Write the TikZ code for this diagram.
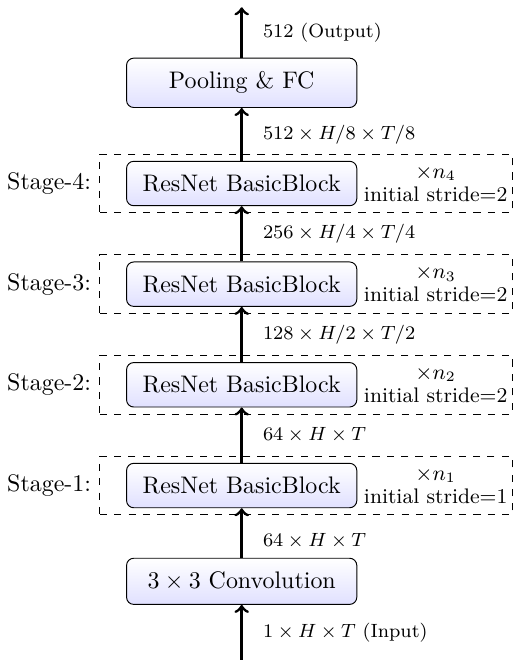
\documentclass[tikz,border=0pt]{standalone}
\usepackage{amsmath}
\usetikzlibrary{positioning}
\begin{document}
\begin{tikzpicture}
\tikzstyle{block} = [draw,rounded corners=3pt,top color=white,bottom color=blue!12,minimum width=3.38cm,inner ysep=5.7pt];
\tikzstyle{stagebox} = [draw,dashed,minimum width=6.05cm,minimum height=0.862cm];
\tikzstyle{stride} = [font=\fontsize{8.8pt}{10pt}\selectfont,align=center,inner sep=2.6pt];
\tikzstyle{dim} = [font=\footnotesize,right,xshift=5pt];
\tikzstyle{flow} = [->,very thick];
\useasboundingbox (-3.548,-1.155) rectangle (4.012,8.534);

% stage frames
\node (st1) [stagebox] at (0.944,1.406) {};
\node (st2) [stagebox] at (0.944,2.885) {};
\node (st3) [stagebox] at (0.944,4.362) {};
\node (st4) [stagebox] at (0.944,5.840) {};
\node [left=0pt of st1] {Stage-1:};
\node [left=0pt of st2] {Stage-2:};
\node [left=0pt of st3] {Stage-3:};
\node [left=0pt of st4] {Stage-4:};

% blocks
\node (conv) [block] at (0,0) {$3\times3$ Convolution};
\node (s1) [block] at (0,1.406) {ResNet BasicBlock};
\node (s2) [block] at (0,2.885) {ResNet BasicBlock};
\node (s3) [block] at (0,4.362) {ResNet BasicBlock};
\node (s4) [block] at (0,5.840) {ResNet BasicBlock};
\node (pool) [block] at (0,7.318) {Pooling \& FC};

\node [stride,right=0pt of s1] {$\times n_1$\\[-0.4pt]initial stride=1};
\node [stride,right=0pt of s2] {$\times n_2$\\[-0.4pt]initial stride=2};
\node [stride,right=0pt of s3] {$\times n_3$\\[-0.4pt]initial stride=2};
\node [stride,right=0pt of s4] {$\times n_4$\\[-0.4pt]initial stride=2};

% data flow
\coordinate (in) at (0,-1.155);
\coordinate (out) at (0,8.427);
\draw [flow] (in) -- (conv) node [dim,midway] {$1\times H\times T$ (Input)};
\draw [flow] (conv) -- (s1) node [dim,pos=0.33] {$64\times H\times T$};
\draw [flow] (s1) -- (s2) node [dim,midway] {$64\times H\times T$};
\draw [flow] (s2) -- (s3) node [dim,midway] {$128\times H/2\times T/2$};
\draw [flow] (s3) -- (s4) node [dim,midway] {$256\times H/4\times T/4$};
\draw [flow] (s4) -- (pool) node [dim,midway] {$512\times H/8\times T/8$};
\draw [flow] (pool) -- (out) node [dim,midway] {512 (Output)};
\end{tikzpicture}
\end{document}
